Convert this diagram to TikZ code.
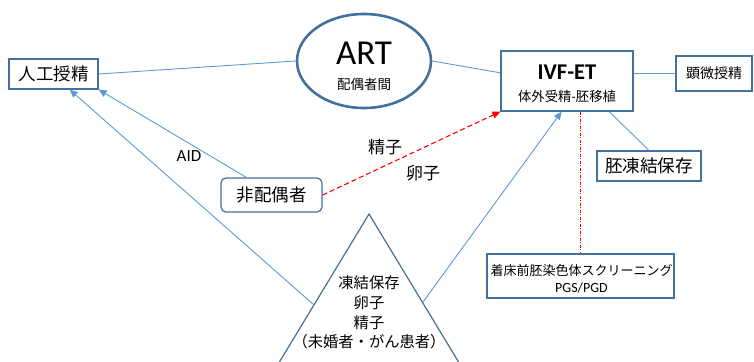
\documentclass[tikz,border=0pt]{standalone}
\usepackage{fontspec}
\setmainfont{Carlito}
\newfontfamily\jp{Noto Sans CJK JP}
\usetikzlibrary{arrows.meta,shapes.geometric}
\definecolor{boxc}{HTML}{41719C}
\definecolor{linec}{HTML}{5B9BD5}
\definecolor{redc}{HTML}{FF0000}
\begin{document}
\begin{tikzpicture}[x=1pt,y=-1pt,
  box/.style={draw=boxc, line width=1.2pt, inner sep=0pt, fill=white, align=center},
  conn/.style={draw=linec, line width=0.9pt},
  arr/.style={conn, -{Triangle[length=8pt,width=7pt]}},
  reddash/.style={draw=redc, line width=1.1pt, dash pattern=on 5pt off 3pt, -{Triangle[length=8pt,width=7pt]}},
  reddot/.style={draw=redc, line width=0.8pt, dash pattern=on 3pt off 1.5pt on 1pt off 1.5pt},
  lbl/.style={inner sep=0pt}]
\useasboundingbox (0,0) rectangle (754,361);
\begin{scope}
\clip (0,0) rectangle (754,361);
% triangle
\coordinate (apex) at (369,214);
\draw[draw=boxc, line width=1.2pt, fill=white] (256.4,400) -- (apex) -- (481.6,400);
\coordinate (triL) at (314,305);
\coordinate (triR) at (423,302);
\node[lbl, align=center, font=\jp\fontsize{15.3}{19.7}\selectfont] (tritext) at (369,312.5)
  {凍結保存\\卵子\\精子\\（未婚者・がん患者）};

\node[box, minimum width=89pt, minimum height=30pt, font=\jp\fontsize{17.5}{20}\selectfont] (jinko) at (53.5,74) {人工授精};
\node[draw=boxc, line width=2.6pt, ellipse, inner sep=0pt, minimum width=134pt, minimum height=94pt, fill=white] (art) at (364,61) {};
\node[lbl, font=\fontsize{35}{35}\selectfont] (arttext) at (364,53.5) {ART};
\node[lbl, font=\jp\fontsize{13.5}{15}\selectfont] (artsub) at (364,84) {配偶者間};

\node[box, minimum width=132pt, minimum height=60pt] (ivf) at (567,81) {};
\node[lbl, font=\bfseries\fontsize{22.5}{24}\selectfont] (ivftext) at (567,72.5) {IVF-ET};
\node[lbl, font=\jp\fontsize{13.3}{15}\selectfont] (ivfsub) at (567,96) {体外受精-胚移植};

\node[box, minimum width=76pt, minimum height=35pt, font=\jp\fontsize{14}{16}\selectfont] (kenbi) at (714,73.5) {顕微授精};
\node[box, minimum width=104pt, minimum height=30pt, font=\jp\fontsize{17.6}{20}\selectfont] (hai) at (649,166) {胚凍結保存};
\node[box, rounded corners=5pt, minimum width=101pt, minimum height=34pt, font=\jp\fontsize{17.5}{20}\selectfont] (hihai) at (271.5,195) {非配偶者};
\node[box, minimum width=187pt, minimum height=44pt] (pgs) at (580.5,276) {};
\node[lbl, font=\jp\fontsize{13}{15}\selectfont] (pgstext) at (581.5,271) {着床前胚染色体スクリーニング};
\node[lbl, font=\fontsize{14}{16}\selectfont] (pgssub) at (581.5,288) {PGS/PGD};

% connectors
\draw[conn] (jinko.east) -- (art.west);
\draw[conn] (art.east) -- (ivf.173);
\draw[conn] (ivf.east |- kenbi.west) -- (kenbi.west);
\draw[conn] (ivf.-36) -- (hai.north);
\draw[reddot] (ivf.south -| pgs.north) -- (pgs.north);
\draw[reddash] (hihai.east) -- (ivf.south west);
\draw[arr] (hihai.145) -- (jinko.south east);
\draw[arr] (triL) -- (jinko.-44);
\draw[arr] (triR) -- (ivf.-100);

\node[lbl, font=\fontsize{17}{18}\selectfont] (aid) at (189,156) {AID};
\node[lbl, font=\jp\fontsize{17}{18}\selectfont] (seishi) at (385,147) {精子};
\node[lbl, font=\jp\fontsize{17}{18}\selectfont] (ranshi) at (423,173) {卵子};
\end{scope}
\end{tikzpicture}
\end{document}
